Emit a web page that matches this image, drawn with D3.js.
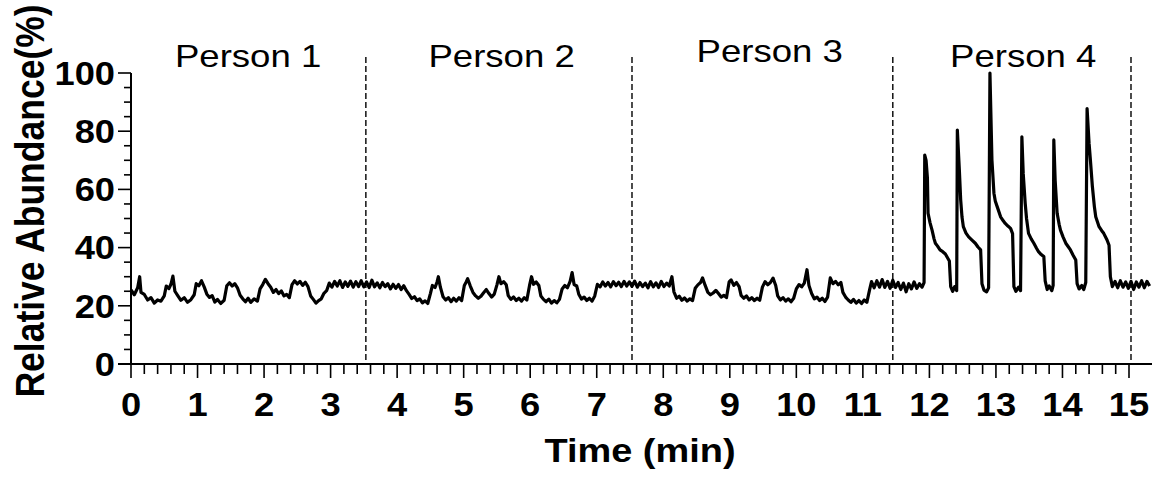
<!DOCTYPE html>
<html>
<head>
<meta charset="utf-8">
<script src="https://cdn.jsdelivr.net/npm/d3@7"></script>
<style>
  body { margin: 0; background: #fff; }
  svg { display: block; font-family: "Liberation Sans", Arial, sans-serif; }
</style>
</head>
<body>
<div id="chart"></div>
<script>
// segment labels and the time (min) where each dashed divider sits
var persons = ['Person 1', 'Person 2', 'Person 3', 'Person 4'];
var personLabelX = [1.76, 5.57, 9.6, 13.41];
var dividers = [3.53, 7.53, 11.45, 15.03];

var xTicks = [0, 1, 2, 3, 4, 5, 6, 7, 8, 9, 10, 11, 12, 13, 14, 15];
var yTicks = [0, 20, 40, 60, 80, 100];

// trace: [time (min), relative abundance (%)]
var person1 = [
  [0.00,25.5],[0.05,23.8],[0.10,26.2],[0.13,30.0],[0.15,24.6],[0.20,23.9],[0.25,22.0],[0.30,22.8],[0.35,20.9],[0.40,22.0],
  [0.45,21.6],[0.50,23.4],[0.53,26.8],[0.57,25.9],[0.60,27.4],[0.63,30.2],[0.66,25.0],[0.70,23.6],[0.75,21.9],[0.80,22.8],
  [0.85,21.2],[0.90,22.1],[0.95,23.8],[0.98,27.6],[1.02,26.9],[1.06,28.6],[1.10,26.5],[1.14,24.0],[1.18,22.9],[1.22,23.5],
  [1.26,21.3],[1.30,22.2],[1.35,20.8],[1.40,21.9],[1.44,26.9],[1.48,27.9],[1.52,26.8],[1.56,27.6],[1.60,26.2],[1.64,23.6],
  [1.68,22.4],[1.72,21.4],[1.76,22.6],[1.80,21.2],[1.85,22.4],[1.90,21.6],[1.94,25.8],[1.98,27.3],[2.02,29.1],[2.06,27.6],
  [2.10,26.4],[2.14,24.6],[2.18,25.6],[2.22,24.2],[2.26,25.1],[2.30,23.4],[2.34,23.9],[2.38,22.8],[2.42,27.3],[2.46,28.6],
  [2.50,27.5],[2.54,28.4],[2.58,27.0],[2.62,28.1],[2.66,26.6],[2.70,23.4],[2.74,22.2],[2.78,20.9],[2.82,21.8],[2.86,22.4],
  [2.90,24.3],[2.94,25.2],[2.98,27.8],[3.02,26.4],[3.06,28.4],[3.10,26.8],[3.14,28.6],[3.18,26.3],[3.22,28.2],[3.26,26.7],
  [3.30,28.5],[3.34,26.4],[3.38,28.3],[3.42,26.6],[3.46,28.6],[3.50,26.5]
];
var person2 = [
  [3.54,28.2],[3.58,26.3],[3.62,28.8],[3.66,26.5],[3.70,27.9],[3.74,26.2],[3.78,28.0],[3.82,26.6],[3.86,27.6],[3.90,25.8],
  [3.94,27.4],[3.98,26.0],[4.02,27.3],[4.06,25.6],[4.10,26.9],[4.14,25.2],[4.18,23.9],[4.22,22.5],[4.26,23.1],[4.30,21.8],
  [4.34,22.4],[4.38,21.0],[4.42,21.7],[4.46,20.8],[4.50,24.2],[4.53,27.0],[4.57,26.3],[4.60,28.2],[4.62,30.0],[4.65,26.4],
  [4.69,23.1],[4.73,22.0],[4.77,22.8],[4.81,21.4],[4.85,22.6],[4.89,21.6],[4.93,22.8],[4.97,21.8],[5.01,27.0],[5.04,28.3],
  [5.06,29.3],[5.10,26.8],[5.14,24.6],[5.18,23.4],[5.22,22.6],[5.26,23.3],[5.30,24.5],[5.34,25.6],[5.38,24.2],[5.42,23.0],
  [5.46,24.0],[5.50,27.2],[5.53,30.0],[5.56,27.6],[5.60,28.3],[5.64,27.2],[5.67,23.5],[5.71,22.2],[5.75,23.0],[5.79,21.8],
  [5.83,22.6],[5.87,21.6],[5.91,22.8],[5.95,22.0],[5.99,27.0],[6.02,30.0],[6.05,27.4],[6.09,28.2],[6.13,27.0],[6.16,23.4],
  [6.20,22.2],[6.24,21.4],[6.28,22.3],[6.32,20.9],[6.36,21.8],[6.40,21.0],[6.44,22.2],[6.48,25.8],[6.52,27.0],[6.56,26.2],
  [6.60,28.4],[6.63,31.4],[6.66,27.3],[6.70,26.8],[6.73,24.0],[6.77,22.3],[6.81,23.0],[6.85,21.8],[6.89,22.6],[6.93,21.6],
  [6.97,23.4],[7.01,27.4],[7.05,26.5],[7.09,28.2],[7.13,26.8],[7.17,28.0],[7.21,26.5],[7.25,28.3],[7.29,26.9],[7.33,28.1],
  [7.37,26.6],[7.41,28.4],[7.45,26.8],[7.49,28.2]
];
var person3 = [
  [7.53,26.7],[7.57,28.5],[7.61,26.4],[7.65,28.0],[7.69,26.6],[7.73,27.8],[7.77,26.2],[7.81,28.3],[7.85,26.5],[7.89,27.9],
  [7.93,26.3],[7.97,28.4],[8.01,26.6],[8.05,27.8],[8.09,26.8],[8.13,30.0],[8.16,24.8],[8.20,22.6],[8.24,23.3],[8.28,21.9],
  [8.32,22.7],[8.36,21.6],[8.40,22.4],[8.44,21.8],[8.48,26.0],[8.52,27.2],[8.56,28.0],[8.59,29.6],[8.63,27.0],[8.67,24.6],
  [8.71,23.8],[8.75,24.4],[8.79,25.3],[8.83,24.2],[8.87,23.0],[8.91,23.6],[8.95,22.8],[8.99,28.2],[9.02,28.9],[9.06,27.0],
  [9.10,28.0],[9.14,26.6],[9.17,23.6],[9.21,22.6],[9.25,23.4],[9.29,22.0],[9.33,22.8],[9.37,21.8],[9.41,22.6],[9.45,21.9],
  [9.49,26.4],[9.53,28.3],[9.57,27.2],[9.61,28.0],[9.65,29.5],[9.69,27.0],[9.72,23.4],[9.76,22.0],[9.80,22.8],[9.84,21.6],
  [9.88,22.4],[9.92,21.4],[9.96,22.6],[10.00,25.8],[10.04,27.3],[10.08,26.5],[10.12,27.8],[10.16,32.4],[10.19,27.0],[10.23,24.2],
  [10.27,22.4],[10.31,23.0],[10.35,21.8],[10.39,22.6],[10.43,21.5],[10.47,23.0],[10.51,29.6],[10.55,27.6],[10.59,28.4],[10.63,27.2],
  [10.67,28.0],[10.70,24.6],[10.74,23.0],[10.78,22.0],[10.82,21.2],[10.86,22.2],[10.90,20.9],[10.94,21.8],[10.98,20.8],[11.02,22.0],
  [11.06,21.2],[11.10,25.4],[11.13,28.3],[11.17,26.2],[11.21,28.6],[11.25,26.4],[11.29,29.0],[11.33,26.3],[11.37,28.4],[11.41,26.0],
  [11.45,28.8]
];
var person4 = [
  [11.49,26.3],[11.53,28.0],[11.57,25.6],[11.61,27.8],[11.65,24.8],[11.69,27.6],[11.73,25.8],[11.77,28.2],[11.81,26.0],[11.85,27.6],
  [11.89,26.4],[11.92,28.0],[11.93,71.8],[11.95,70.0],[11.97,64.0],[11.98,51.8],[12.01,48.5],[12.04,46.0],[12.07,43.0],[12.09,41.5],
  [12.12,40.6],[12.16,39.2],[12.20,38.6],[12.24,37.8],[12.27,36.6],[12.30,35.4],[12.32,26.6],[12.35,25.0],[12.38,26.6],[12.41,25.2],
  [12.42,80.4],[12.45,66.7],[12.47,56.4],[12.49,50.5],[12.51,47.2],[12.55,45.0],[12.59,43.7],[12.64,42.6],[12.69,41.5],[12.73,40.2],
  [12.77,39.2],[12.79,27.6],[12.82,25.4],[12.86,24.8],[12.89,26.2],[12.91,100],[12.94,70.1],[12.97,58.7],[12.99,56.0],[13.02,54.0],
  [13.07,50.6],[13.11,49.2],[13.14,48.3],[13.18,47.4],[13.22,46.6],[13.25,44.8],[13.27,26.6],[13.30,25.0],[13.34,26.4],[13.37,25.2],
  [13.39,78.1],[13.41,65.5],[13.44,55.2],[13.46,50.0],[13.49,44.9],[13.53,43.0],[13.57,41.5],[13.61,39.8],[13.64,38.6],[13.68,37.6],
  [13.72,36.9],[13.74,28.6],[13.77,25.6],[13.80,26.8],[13.84,25.2],[13.86,27.0],[13.87,77.0],[13.89,63.2],[13.92,51.8],[13.95,48.0],
  [13.97,46.0],[14.01,43.6],[14.05,41.5],[14.09,40.2],[14.12,39.2],[14.16,37.4],[14.20,35.7],[14.22,27.6],[14.25,25.8],[14.29,27.0],
  [14.32,25.6],[14.35,28.0],[14.37,87.8],[14.40,75.8],[14.42,70.1],[14.45,60.9],[14.48,54.0],[14.50,50.6],[14.55,47.2],[14.59,45.8],
  [14.62,44.9],[14.67,42.6],[14.70,40.8],[14.72,30.0],[14.75,26.6],[14.79,28.4],[14.83,26.2],[14.87,28.6],[14.91,26.4],[14.95,28.2],
  [14.99,26.0],[15.03,28.4],[15.07,25.6],[15.11,28.2],[15.15,26.4],[15.19,28.6],[15.23,26.2],[15.27,28.4],[15.31,26.8]
];

var width = 1159, height = 481;
var svg = d3.select('#chart').append('svg').attr('width', width).attr('height', height);

var x = d3.scaleLinear().domain([0, 15]).range([131, 1129]);
var y = d3.scaleLinear().domain([0, 100]).range([364, 73]);

// the original figure is a bit stretched sideways, so text gets a wider scale
function wideText(sel, px, py, sx, rot) {
    return sel.append('text')
        .attr('transform', `translate(${px},${py})` + (rot ? `rotate(${rot})` : '') + (rot ? `scale(1,${sx})` : `scale(${sx},1)`));
}

// dashed dividers between persons
svg.selectAll('.divider').data(dividers).enter().append('line')
    .attr('x1', d => x(d)).attr('x2', d => x(d))
    .attr('y1', 57).attr('y2', 364)
    .attr('stroke', '#000').attr('stroke-width', 1.4).attr('stroke-dasharray', '6,3');

// person labels
persons.forEach(function (p, i) {
    wideText(svg, x(personLabelX[i]), i == 2 ? 62 : 67, 1.18)
        .attr('text-anchor', 'middle')
        .style('font-size', '31px')
        .text(p);
});

// the trace
var line = d3.line().x(d => x(d[0])).y(d => y(d[1]));
var trace = person1.concat(person2, person3, person4);
svg.append('path').datum(trace).attr('d', line)
    .attr('fill', 'none').attr('stroke', '#000').attr('stroke-width', 3.2).attr('stroke-linejoin', 'round');

// x axis
var xAxis = svg.append('g');
xAxis.append('line').attr('x1', 118).attr('x2', 1152).attr('y1', y(0)).attr('y2', y(0))
    .attr('stroke', '#000').attr('stroke-width', 2);
var xMinor = d3.range(0, 76).map(i => i / 5);
xAxis.selectAll('.xminor').data(xMinor).enter().append('line')
    .attr('x1', d => x(d)).attr('x2', d => x(d))
    .attr('y1', y(0)).attr('y2', (d, i) => i % 5 == 0 ? y(0) + 14 : y(0) + 10)
    .attr('stroke', '#000').attr('stroke-width', 1.6);
xTicks.forEach(function (t) {
    wideText(xAxis, x(t), 416, 1.1)
        .attr('text-anchor', 'middle')
        .style('font-size', '33px').style('font-weight', 'bold')
        .text(t);
});

// y axis
var yAxis = svg.append('g');
yAxis.append('line').attr('x1', x(0)).attr('x2', x(0)).attr('y1', y(100)).attr('y2', y(0))
    .attr('stroke', '#000').attr('stroke-width', 2);
var yMinor = d3.range(0, 21).map(i => i * 5);
yAxis.selectAll('.yminor').data(yMinor).enter().append('line')
    .attr('x1', (d, i) => i % 4 == 0 ? x(0) - 13 : x(0) - 7).attr('x2', x(0))
    .attr('y1', d => y(d)).attr('y2', d => y(d))
    .attr('stroke', '#000').attr('stroke-width', 1.6);
yTicks.forEach(function (t) {
    wideText(yAxis, 115, y(t), 1.1)
        .attr('dy', '0.36em')
        .attr('text-anchor', 'end')
        .style('font-size', '33px').style('font-weight', 'bold')
        .text(t);
});

// axis titles
wideText(svg, 640, 462, 1.15).attr('text-anchor', 'middle')
    .style('font-size', '33px').style('font-weight', 'bold')
    .text('Time (min)');
wideText(svg, 44, 201, 1.15, -90).attr('text-anchor', 'middle')
    .style('font-size', '35.5px').style('font-weight', 'bold')
    .text('Relative Abundance(%)');
</script>
</body>
</html>
